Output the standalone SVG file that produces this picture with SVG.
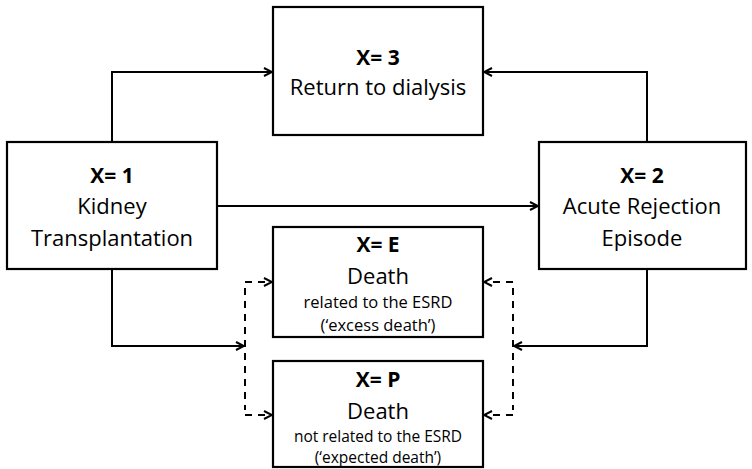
<svg xmlns="http://www.w3.org/2000/svg" width="752" height="469" viewBox="0 0 752 469">
<style>
.box{fill:#fff;stroke:#000;stroke-width:2.2}
.t{font-family:"Open Sans","Liberation Sans",sans-serif;fill:#000;text-anchor:middle}
.b{font-weight:bold;font-size:21px}
.n{font-size:22px}
.s{font-size:15.5px}
.s2{font-size:16.5px}
.c{fill:none;stroke:#000;stroke-width:2}
.d{stroke-dasharray:7,6}
</style>
<defs>
<marker id="ah" viewBox="0 0 10 10" refX="9" refY="5" markerWidth="10" markerHeight="10" markerUnits="userSpaceOnUse" orient="auto">
<path d="M1,1 L9,5 L1,9" fill="none" stroke="#000" stroke-width="2"/>
</marker>
</defs>
<g id="connectors">
<path class="c" d="M112,142 V72 H272" marker-end="url(#ah)"/>
<path class="c" d="M647,142 V72 H484" marker-end="url(#ah)"/>
<path class="c" d="M217,206 H538" marker-end="url(#ah)"/>
<path class="c" d="M112,269 V346 H244" marker-end="url(#ah)"/>
<path class="c" d="M647,269 V346 H514" marker-end="url(#ah)"/>
<path class="c d" d="M245,288 V410"/>
<path class="c d" d="M245,282 H272" marker-end="url(#ah)"/>
<path class="c d" d="M245,415 H272" marker-end="url(#ah)"/>
<path class="c d" d="M513,288 V410"/>
<path class="c d" d="M513,282 H484" marker-end="url(#ah)"/>
<path class="c d" d="M513,415 H484" marker-end="url(#ah)"/>
</g>
<g id="node3">
<rect class="box" x="273" y="7" width="210" height="128"/>
<text class="t b" x="378" y="65">X= 3</text>
<text class="t n" x="378" y="95">Return to dialysis</text>
</g>
<g id="node1">
<rect class="box" x="7" y="142" width="210" height="127"/>
<text class="t b" x="112" y="183">X= 1</text>
<text class="t n" x="112" y="214">Kidney</text>
<text class="t n" x="112" y="246">Transplantation</text>
</g>
<g id="node2">
<rect class="box" x="539" y="142" width="207" height="127"/>
<text class="t b" x="642" y="183">X= 2</text>
<text class="t n" x="642" y="214">Acute Rejection</text>
<text class="t n" x="642" y="246">Episode</text>
</g>
<g id="nodeE">
<rect class="box" x="273" y="227" width="210" height="110"/>
<text class="t b" x="378" y="252">X= E</text>
<text class="t n" x="378" y="284">Death</text>
<text class="t s2" x="378" y="308">related to the ESRD</text>
<text class="t s2" x="378" y="331">(‘excess death’)</text>
</g>
<g id="nodeP">
<rect class="box" x="273" y="361" width="210" height="106"/>
<text class="t b" x="378" y="387">X= P</text>
<text class="t n" x="378" y="419">Death</text>
<text class="t s" x="378" y="442">not related to the ESRD</text>
<text class="t s" x="378" y="463">(‘expected death’)</text>
</g>
</svg>
